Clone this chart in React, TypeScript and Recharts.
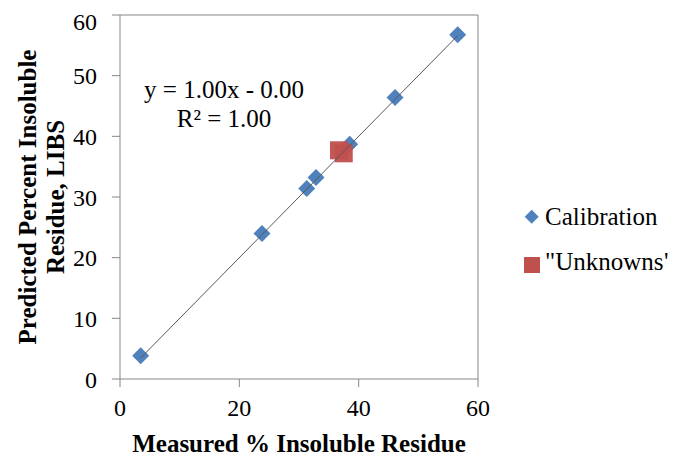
import React from 'react';
import { ScatterChart, Scatter, XAxis, YAxis, ReferenceLine, Customized } from 'recharts';

const calibrationX = [3.47, 23.8, 31.3, 32.85, 38.5, 46.1, 56.6];
const calibrationY = [3.84, 24.0, 31.4, 33.2, 38.7, 46.4, 56.75];
const unknownX = [36.7, 37.5];
const unknownY = [37.7, 37.2];
const trendX = [3.47, 56.6];
const trendY = [3.47, 56.6];
const xTicks = [0, 20, 40, 60];
const yTicks = [0, 10, 20, 30, 40, 50, 60];
const seriesNames = ['Calibration', '"Unknowns"'];
const equationLines = ['y = 1.00x - 0.00', 'R\u00B2 = 1.00'];
const xTitle = 'Measured % Insoluble Residue';
const yTitleLines = ['Predicted Percent Insoluble', 'Residue, LIBS'];

const calibration = calibrationX.map((x, i) => ({ x, y: calibrationY[i] }));
const unknowns = unknownX.map((x, i) => ({ x, y: unknownY[i] }));
const trend = trendX.map((x, i) => ({ x, y: trendY[i] }));

const BLUE = '#4F81BD';
const RED = '#C0504D';
const AXIS = '#868686';
const FONT = 'Liberation Serif, Times New Roman, Times, serif';

const Diamond = (props: any) => {
  const { cx, cy } = props;
  const r = 8.5;
  return <polygon points={`${cx},${cy - r} ${cx + r},${cy} ${cx},${cy + r} ${cx - r},${cy}`} fill={BLUE} />;
};

const Square = (props: any) => {
  const { cx, cy } = props;
  const s = 18;
  return <rect x={cx - s / 2} y={cy - s / 2} width={s} height={s} fill={RED} fillOpacity={0.95} />;
};

const NoShape = () => <g />;

const LegendBox = () => (
  <g transform="translate(512,190)">
    <polygon points="11.7,11.7 18.7,18.7 11.7,25.7 4.7,18.7" fill={BLUE} />
    <text x={25} y={27} fontFamily={FONT} fontSize={25} fill="#000">{seriesNames[0]}</text>
    <rect x={4} y={59} width={16} height={16} fill={RED} />
    <text x={25} y={72} fontFamily={FONT} fontSize={25} fill="#000">{seriesNames[1]}</text>
  </g>
);

const Equation = () => (
  <g>
    <text x={216} y={90.3} textAnchor="middle" fontFamily={FONT} fontSize={25} fill="#000">{equationLines[0]}</text>
    <text x={216} y={118.7} textAnchor="middle" fontFamily={FONT} fontSize={25} fill="#000">{equationLines[1]}</text>
  </g>
);

const YTitle = () => (
  <g>
    <text x={28} y={189} transform="rotate(-90, 28, 189)" textAnchor="middle" fontFamily={FONT} fontSize={25} fontWeight="bold" fill="#000">{yTitleLines[0]}</text>
    <text x={56} y={189} transform="rotate(-90, 56, 189)" textAnchor="middle" fontFamily={FONT} fontSize={25} fontWeight="bold" fill="#000">{yTitleLines[1]}</text>
  </g>
);

const XTitle = () => (
  <text x={291} y={443.7} textAnchor="middle" fontFamily={FONT} fontSize={25} fontWeight="bold" fill="#000">{xTitle}</text>
);

export default function App() {
  return (
    <ScatterChart width={668} height={449} margin={{ top: 7, right: 198, bottom: 8, left: 0 }} style={{ fontFamily: FONT }}>
      <XAxis
        type="number"
        dataKey="x"
        domain={[0, 60]}
        ticks={xTicks}
        height={70}
        tickSize={8}
        tickMargin={12}
        stroke={AXIS}
        tick={{ fill: '#000', fontSize: 24, fontFamily: FONT }}
        allowDataOverflow
      />
      <YAxis
        type="number"
        dataKey="y"
        domain={[0, 60]}
        ticks={yTicks}
        width={112}
        tickSize={8}
        tickMargin={15}
        stroke={AXIS}
        tick={{ fill: '#000', fontSize: 24, fontFamily: FONT }}
        allowDataOverflow
      />
      <ReferenceLine x={60} stroke={AXIS} ifOverflow="visible" />
      <ReferenceLine y={60} stroke={AXIS} ifOverflow="visible" />
      <Scatter name={seriesNames[0]} data={calibration} shape={Diamond} isAnimationActive={false} />
      <Scatter name={seriesNames[1]} data={unknowns} shape={Square} isAnimationActive={false} />
      <Scatter
        name="trend"
        data={trend}
        shape={NoShape}
        line={{ stroke: '#595959', strokeWidth: 1 }}
        legendType="none"
        isAnimationActive={false}
      />
      <Customized component={LegendBox} />
      <Customized component={Equation} />
      <Customized component={YTitle} />
      <Customized component={XTitle} />
    </ScatterChart>
  );
}
